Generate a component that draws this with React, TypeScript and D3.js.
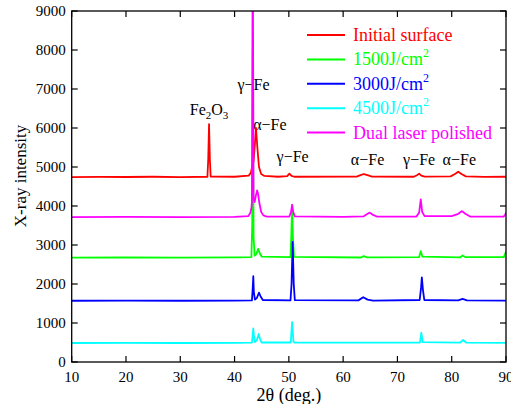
import React from "react";
import * as d3 from "d3";

const X_TICKS = [10, 20, 30, 40, 50, 60, 70, 80, 90];
const Y_TICKS = [0, 1000, 2000, 3000, 4000, 5000, 6000, 7000, 8000, 9000];

const INITIAL: [number, number][] = [
  [10, 4742], [15, 4748], [20, 4744], [25, 4750], [30, 4742], [35.0, 4750], [35.15, 5200], [35.3, 6100], [35.45, 5200],
  [35.6, 4755], [40, 4750], [42.6, 4780], [43.0, 4850], [43.3, 5050], [43.5, 5150], [43.7, 5500], [43.95, 6000],
  [44.2, 5500], [44.5, 5000], [44.9, 4820], [45.5, 4770], [48, 4750], [49.7, 4765], [50.1, 4830], [50.5, 4770],
  [51, 4750], [62.5, 4755], [63.2, 4790], [63.8, 4820], [64.5, 4790], [65.3, 4755], [73, 4750], [73.6, 4790],
  [74.0, 4830], [74.4, 4780], [75, 4752], [79.8, 4760], [80.6, 4820], [81.2, 4880], [81.8, 4820], [82.6, 4760],
  [86, 4748], [90, 4750],
];
const J1500: [number, number][] = [
  [10, 2675], [20, 2680], [30, 2676], [40, 2682], [43.1, 2690], [43.25, 3500], [43.35, 8000], [43.5, 3200],
  [43.7, 2730], [44.0, 2760], [44.35, 2900], [44.6, 2800], [45, 2700], [50.3, 2690], [50.45, 3200], [50.6, 4030],
  [50.75, 3200], [50.95, 2695], [63.3, 2680], [63.8, 2715], [64.4, 2685], [74.0, 2690], [74.3, 2840], [74.6, 2700],
  [81.6, 2685], [82.0, 2730], [82.5, 2690], [89.6, 2690], [90, 2830],
];
const J3000: [number, number][] = [
  [10, 1570], [20, 1574], [30, 1570], [40, 1575], [43.2, 1580], [43.35, 1900], [43.45, 2200], [43.55, 1800],
  [43.75, 1600], [44.1, 1640], [44.5, 1780], [44.8, 1680], [45.2, 1590], [50.3, 1580], [50.5, 2000], [50.7, 3080],
  [50.9, 2000], [51.1, 1585], [62.8, 1580], [63.7, 1660], [64.5, 1600], [65.5, 1575], [74.1, 1590], [74.35, 1900],
  [74.5, 2170], [74.7, 1850], [74.95, 1590], [81.2, 1580], [82.0, 1620], [82.8, 1580], [90, 1575],
];
const J4500: [number, number][] = [
  [10, 487], [20, 490], [30, 487], [40, 490], [43.2, 495], [43.35, 700], [43.45, 860], [43.55, 700], [43.75, 510],
  [44.1, 560], [44.45, 720], [44.7, 580], [45, 500], [50.35, 500], [50.6, 1025], [50.85, 520], [51.1, 495],
  [74.15, 500], [74.4, 750], [74.65, 510], [81.5, 495], [82.1, 565], [82.7, 495], [90, 490],
];
const DUAL: [number, number][] = [
  [10, 3715], [20, 3720], [30, 3716], [40, 3720], [42.5, 3740], [42.9, 3820], [43.1, 3950], [43.2, 4100],
  [43.35, 11000], [43.5, 4200], [43.7, 4100], [43.9, 4250], [44.15, 4400], [44.35, 4300], [44.6, 4050],
  [44.9, 3850], [45.3, 3760], [46, 3725], [50.1, 3730], [50.4, 3850], [50.6, 4030], [50.8, 3850], [51.1, 3735],
  [60, 3720], [63.8, 3735], [64.5, 3800], [64.9, 3830], [65.4, 3780], [66.2, 3730], [73.5, 3730], [74.0, 3830],
  [74.3, 4170], [74.55, 3850], [75, 3740], [80, 3740], [81.2, 3800], [81.9, 3870], [82.5, 3800], [83.4, 3730],
  [89.5, 3725], [89.8, 3760], [90, 3830],
];

const SERIES_NAMES = ["Initial surface", "1500J/cm", "3000J/cm", "4500J/cm", "Dual laser polished"];
const SERIES_SUP = ["", "2", "2", "2", ""];
const SERIES_COLORS = ["#ff0000", "#00ff00", "#0000ff", "#00ffff", "#ff00ff"];
const SERIES_DATA = [INITIAL, J1500, J3000, J4500, DUAL];

const ANNOT_TEXT = ["γ−Fe", "α−Fe", "γ−Fe", "α−Fe", "γ−Fe", "α−Fe"];
const ANNOT_X = [43.5, 46.5, 50.7, 64.5, 74.0, 81.4];
const ANNOT_Y = [6970, 5950, 5130, 5050, 5050, 5050];
const FE2O3_POS: [number, number] = [35.3, 6330];

const W = 511;
const H = 404;
const L = 71.7, R = 506, T = 11, B = 362;
const FONT = "Liberation Serif, DejaVu Serif, serif";

export default function App() {
  const x = d3.scaleLinear().domain([10, 90]).range([L, R]);
  const y = d3.scaleLinear().domain([0, 9000]).range([B, T]);
  const line = d3.line<[number, number]>().x((d) => x(d[0])).y((d) => y(d[1]));
  const tick = 6;
  return (
    <svg width={W} height={H} style={{ position: "absolute", left: 0, top: 0, background: "#fff", fontFamily: FONT }}>
      <defs>
        <clipPath id="plot">
          <rect x={L} y={T} width={R - L} height={B - T} />
        </clipPath>
      </defs>
      <rect x={0} y={0} width={W} height={H} fill="#fff" />
      {/* annotations */}
      <g fontSize={16} fill="#000" textAnchor="middle" style={{ fontFamily: FONT }}>
        {ANNOT_TEXT.map((t, i) => (
          <text key={i} x={x(ANNOT_X[i])} y={y(ANNOT_Y[i])}>{t}</text>
        ))}
        <text x={x(FE2O3_POS[0])} y={y(FE2O3_POS[1])}>
          Fe<tspan dy={4} fontSize={11}>2</tspan><tspan dy={-4}>O</tspan><tspan dy={4} fontSize={11}>3</tspan>
        </text>
      </g>
      {/* series */}
      <g clipPath="url(#plot)" fill="none" strokeWidth={1.8} strokeLinejoin="round">
        {SERIES_DATA.map((d, i) => (
          <path key={i} d={line(d) || ""} stroke={SERIES_COLORS[i]} />
        ))}
      </g>
      {/* frame */}
      <rect x={L} y={T} width={R - L} height={B - T} fill="none" stroke="#000" strokeWidth={1.3} />
      <g stroke="#000" strokeWidth={1.2}>
        {X_TICKS.map((v) => (
          <g key={v}>
            <line x1={x(v)} x2={x(v)} y1={B} y2={B - tick} />
            <line x1={x(v)} x2={x(v)} y1={T} y2={T + tick} />
          </g>
        ))}
        {Y_TICKS.map((v) => (
          <g key={v}>
            <line x1={L} x2={L + tick} y1={y(v)} y2={y(v)} />
            <line x1={R} x2={R - tick} y1={y(v)} y2={y(v)} />
          </g>
        ))}
      </g>
      <g fontSize={15} fill="#000" style={{ fontFamily: FONT }}>
        {X_TICKS.map((v) => (
          <text key={v} x={x(v)} y={B + 20} textAnchor="middle">{v}</text>
        ))}
        {Y_TICKS.map((v) => (
          <text key={v} x={L - 6} y={y(v) + 5} textAnchor="end">{v}</text>
        ))}
      </g>
      <text x={(L + R) / 2} y={401} fontSize={18} textAnchor="middle" style={{ fontFamily: FONT }}>2θ (deg.)</text>
      <text transform="translate(26,176) rotate(-90)" fontSize={17} textAnchor="middle" style={{ fontFamily: FONT }}>X-ray intensity</text>
      {/* legend */}
      <g fontSize={18} style={{ fontFamily: FONT }}>
        {SERIES_NAMES.map((n, i) => (
          <g key={i} transform={`translate(0,${35 + i * 24.4})`}>
            <line x1={307} x2={345} y1={0} y2={0} stroke={SERIES_COLORS[i]} strokeWidth={2} />
            <text x={353} y={6} fill={SERIES_COLORS[i]}>
              {n}
              {SERIES_SUP[i] && <tspan dy={-8} fontSize={12}>{SERIES_SUP[i]}</tspan>}
            </text>
          </g>
        ))}
      </g>
    </svg>
  );
}
